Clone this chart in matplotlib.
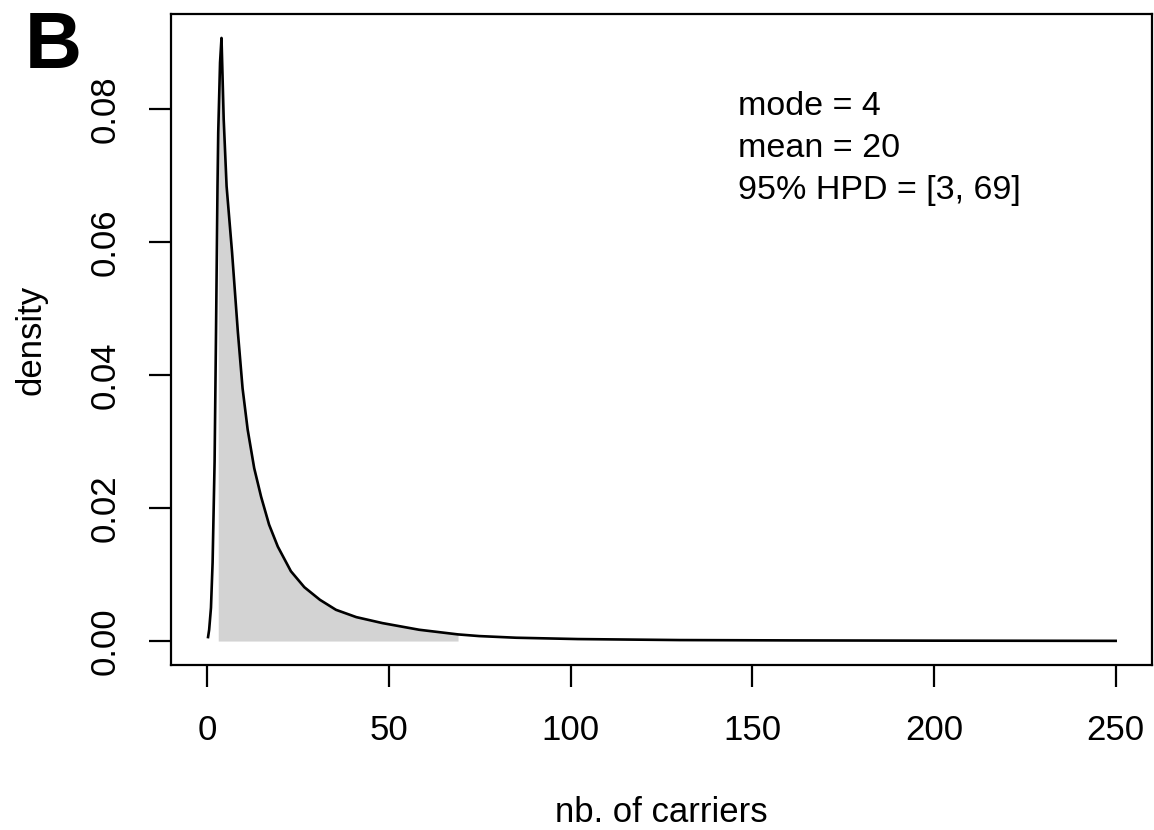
import numpy as np
import matplotlib
matplotlib.use("Agg")
import matplotlib.pyplot as plt

plt.rcParams['font.family'] = ['Liberation Sans', 'DejaVu Sans']

# posterior density of the number of carriers
carriers = np.array([0.2, 0.5, 1.0, 1.45, 2.0, 2.4, 2.8, 3.0, 3.5, 3.9, 4.5, 5.3, 6.8, 8.4, 9.7,
                     11.1, 12.9, 14.8, 17.0, 19.4, 23.0, 26.7, 31.0, 35.4, 41.0, 48.2, 58.3,
                     69.0, 74.8, 85.0, 102.0, 130.0, 160.0, 200.0, 250.0])
density = np.array([0.0006, 0.0017, 0.0050, 0.0118, 0.0270, 0.0469, 0.0684, 0.0765, 0.0870,
                    0.0907, 0.0785, 0.0684, 0.0585, 0.0465, 0.0380, 0.0318, 0.0260, 0.0217,
                    0.0175, 0.0142, 0.0105, 0.0081, 0.0062, 0.0047, 0.0036, 0.0027, 0.0017,
                    0.0010, 0.00075, 0.0005, 0.0003, 0.00015, 0.0001, 0.00006, 0.00003])

hpd_low, hpd_high = 3, 69
mode_val, mean_val = 4, 20

x_ticks = [0, 50, 100, 150, 200, 250]
y_ticks = [0.00, 0.02, 0.04, 0.06, 0.08]
y_ticklabels = ["0.00", "0.02", "0.04", "0.06", "0.08"]

W, H = 1154, 830
fig = plt.figure(figsize=(W / 100, H / 100), dpi=100)
ax = fig.add_axes([171 / W, 1 - 665 / H, (1152 - 171) / W, (665 - 14) / H])

# shaded 95% HPD
inside = (carriers >= hpd_low) & (carriers <= hpd_high)
ax.fill_between(carriers[inside], 0, density[inside], color='#d3d3d3', linewidth=0)
ax.plot(carriers, density, color='black', lw=1.9)

ax.set_xlim(-10, 260)
ax.set_ylim(-0.0036, 0.0943)

for s in ax.spines.values():
    s.set_linewidth(1.6)

ax.set_xticks(x_ticks)
ax.set_xticklabels([str(t) for t in x_ticks])
ax.set_yticks(y_ticks)
ax.set_yticklabels(y_ticklabels, rotation=90, va='center')
ax.tick_params(axis='both', length=15.5, width=1.6, pad=20, labelsize=25)

fig.text(661.5 / W, 1 - 822 / H, "nb. of carriers", ha='center', va='baseline', fontsize=25)
fig.text(31 / W, 1 - 339.5 / H, "density", ha='center', va='center', rotation=90, fontsize=25)

fig.text(25 / W, 1 - 68 / H, "B", ha='left', va='baseline', fontsize=57, fontweight='bold')

ann = ["mode = %d" % mode_val, "mean = %d" % mean_val, "95%% HPD = [%d, %d]" % (hpd_low, hpd_high)]
for i, line in enumerate(ann):
    fig.text(738 / W, 1 - (115 + 42 * i) / H, line, ha='left', va='baseline', fontsize=24.5)

fig.savefig("out.png", dpi=100)
